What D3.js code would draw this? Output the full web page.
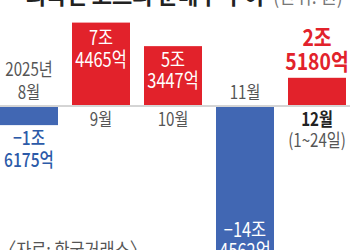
<!DOCTYPE html>
<html><head><meta charset="utf-8">
<script src="https://cdn.jsdelivr.net/npm/d3@7"></script>
<style>body{margin:0;background:#fff}svg{display:block}text{font-family:"Noto Sans CJK KR","Noto Sans",sans-serif}</style>
</head><body><svg id="c" width="350" height="250"></svg>
<script>
const months = ["8월","9월","10월","11월","12월"];
const values = [-1.6175, 7.4465, 5.3447, -14.4562, 2.5180];
const labelJo = ["−1조","7조","5조","−14조","2조"];
const labelEok = ["6175억","4465억","3447억","4562억","5180억"];
const title = "외국인 코스피 순매수 추이";
const unit = "(단위: 원)";
const source = "〈자료: 한국거래소〉";

const svg = d3.select("#c");
const red = "#e2222b", blue = "#4167b3";
const x = d3.scaleBand().domain(months).range([0,346]).paddingInner(14/72).paddingOuter(0);
const y = d3.scaleLinear().domain([-14.4562, 7.4465]).range([106+14.4562*11.2, 106-7.4465*11.2]);
const y0 = y(0);

svg.append("line").attr("x1",0).attr("x2",350).attr("y1",y0).attr("y2",y0).attr("stroke","#aaa").attr("stroke-width",1);

svg.selectAll("rect.bar").data(values).join("rect").attr("class","bar")
  .attr("x",(d,i)=>x(months[i])).attr("width",x.bandwidth())
  .attr("y",d=>d>0?y(d):y0+1).attr("height",d=>Math.abs(y(d)-y0)-(d>0?1:0))
  .attr("fill",d=>d>0?red:blue);

// multi-line text as a single <text> with tspans
function txt(lines, cx, cy, opt){
  const t = svg.append("text").attr("x",0).attr("y",0)
    .attr("text-anchor","middle").attr("font-size",opt.size||16)
    .attr("font-weight",opt.weight||"400").attr("fill",opt.fill||"#555")
    .attr("transform",`translate(${cx},${cy}) scale(${opt.sx||0.84},1)`);
  [].concat(lines).forEach((s,k)=>{
    t.append("tspan").attr("x",0).attr("y",k*(opt.lh||22)).text(s);
  });
  return t;
}
const cx = i => x(months[i]) + x.bandwidth()/2;

// title (clipped at top)
txt(title, 145, 4, {size:24, weight:"700", fill:"#222", sx:0.92});
txt(unit, 308, 4, {size:20, fill:"#777", sx:0.88});

// Aug
txt(["2025년", months[0]], cx(0), 76, {size:18, lh:23});
txt([labelJo[0], labelEok[0]], cx(0), 145, {size:19, weight:"500", fill:"#2c5aa8", sx:0.82});
// Sep
txt([labelJo[1], labelEok[1]], cx(1), 45, {size:20, fill:"#fff", sx:0.82});
txt(months[1], cx(1), 126, {size:18});
// Oct
txt([labelJo[2], labelEok[2]], cx(2), 67, {size:20, fill:"#fff", sx:0.82, lh:21});
txt(months[2], cx(2), 126, {size:18});
// Nov
txt(months[3], cx(3), 99, {size:18});
txt([labelJo[3], labelEok[3]], cx(3), 237, {size:20, fill:"#fff", sx:0.82, lh:21});
// Dec
txt([labelJo[4], labelEok[4]], cx(4), 46, {size:23, weight:"700", fill:red, sx:0.84, lh:24});
txt(months[4], cx(4), 126, {size:18, weight:"700", fill:"#222"});
txt("(1~24일)", cx(4), 147, {size:18});

// source
svg.append("text").attr("x",0).attr("y",257).text(source).attr("font-size",19).attr("fill","#555")
  .attr("transform","scale(0.86,1)");
</script></body></html>
